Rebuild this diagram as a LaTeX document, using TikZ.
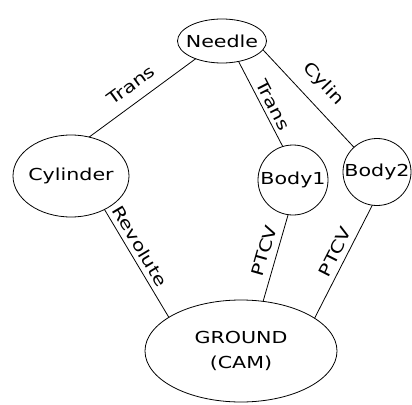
\documentclass[tikz,border=0pt]{standalone}
\usepackage{fontspec}
\newfontfamily\plotfont[FakeStretch=1.25]{DejaVu Sans}
\usetikzlibrary{shapes.geometric}
\newcommand{\nowidth}[1]{\makebox[0pt]{#1}}
\begin{document}
\begin{tikzpicture}[x=1pt,y=-1pt,
  body/.style={draw, ellipse, line width=0.8pt, inner sep=0pt, outer sep=0pt,
    font=\plotfont\fontsize{16.5}{25}\selectfont, align=center},
  lbl/.style={font=\plotfont\fontsize{16.5}{18}\selectfont, inner sep=0pt},
  joint/.style={line width=0.8pt}]
\useasboundingbox (0,0) rectangle (412,404);
\node[body, minimum width=89pt, minimum height=44pt] (needle) at (222,41) {\nowidth{Needle}};
\node[body, minimum width=116pt, minimum height=82pt] (cyl) at (71,176) {\nowidth{Cylinder}};
\node[body, minimum width=70pt, minimum height=70pt] (b1) at (293,180) {\nowidth{Body1}};
\node[body, minimum width=68pt, minimum height=67pt] (b2) at (377,172) {\nowidth{Body2}};
\node[body, minimum width=192pt, minimum height=102pt] (gnd) at (241,351) {GROUND\\(CAM)};
\draw[joint] (needle.214) -- (cyl.65);
\draw[joint] (needle.309) -- (b1.107);
\draw[joint] (needle.348) -- (b2.133);
\draw[joint] (cyl.315) -- (gnd.155);
\draw[joint] (b1.262) -- (gnd.66);
\draw[joint] (b2.262) -- (gnd.24);
\node[lbl, rotate=36] (l1) at (131,85) {Trans};
\node[lbl, rotate=-63] (l2) at (273,105) {Trans};
\node[lbl, rotate=-47] (l3) at (323,84) {Cylin};
\node[lbl, rotate=-59] (l4) at (140,246) {Revolute};
\node[lbl, rotate=74] (l5) at (264,251) {PTCV};
\node[lbl, rotate=63] (l6) at (335,252) {PTCV};
\end{tikzpicture}
\end{document}
